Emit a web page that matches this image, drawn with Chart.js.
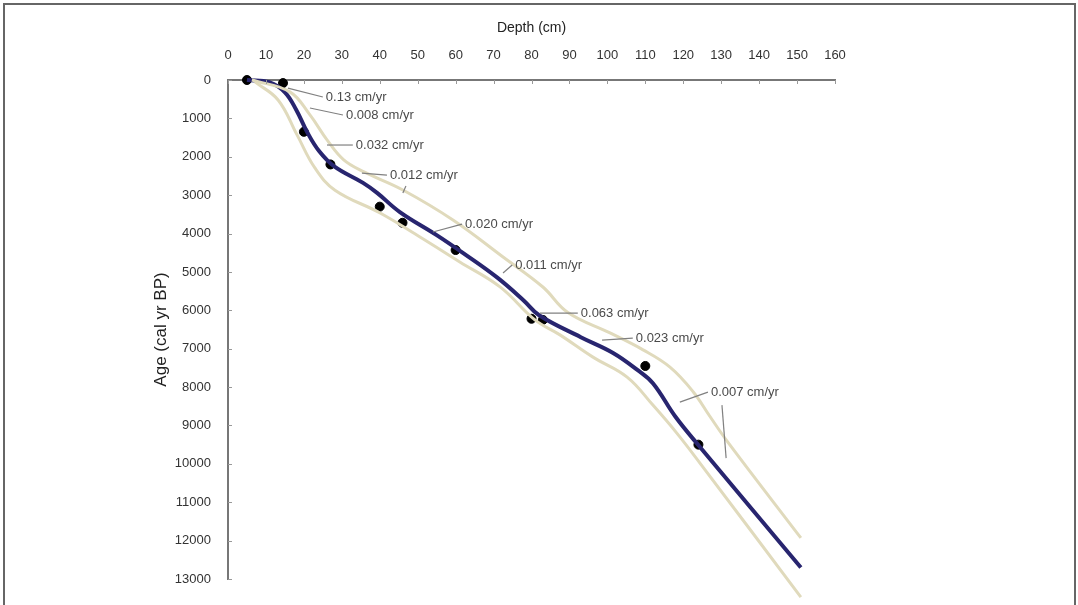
<!DOCTYPE html>
<html lang="en">

<head>
  <meta charset="UTF-8">
  <title>age depth model</title>
  <style>
    body { margin: 0; background: #fff; }
    #wrap { position: relative; width: 1078px; height: 605px; overflow: hidden; }
    #frame { position: absolute; left: 3px; top: 3px; width: 1069px; height: 620px; border: 2px solid #666; }
  </style>
</head>

<body>
  <div id="wrap">
    <canvas id="myChart" width="1078" height="605"></canvas>
    <div id="frame"></div>
  </div>
  <script src="https://cdn.jsdelivr.net/npm/chart.js"></script>
  <script>
    // depth (cm) / age (cal yr BP)
    const xTicks = [0, 10, 20, 30, 40, 50, 60, 70, 80, 90, 100, 110, 120, 130, 140, 150, 160];
    const yTicks = [0, 1000, 2000, 3000, 4000, 5000, 6000, 7000, 8000, 9000, 10000, 11000, 12000, 13000];

    const modelDepth = [5, 11, 15, 18, 21, 24, 28, 35.6, 39.3, 45.3, 55, 62, 71, 78, 82, 93, 101.5, 108, 112, 118, 124.4, 151];
    const modelAge = [0, 60, 320, 780, 1380, 1850, 2250, 2680, 2940, 3440, 4040, 4510, 5150, 5750, 6130, 6700, 7110, 7560, 7900, 8780, 9560, 12700];

    const upperDepth = [6.3, 16.3, 21.6, 26.1, 30.5, 36, 46.1, 59.3, 72.5, 83.0, 89.5, 100.7, 109.4, 116.5, 122.6, 127.0, 131.5, 151];
    const upperAge = [0, 310, 910, 1560, 2080, 2400, 2866, 3648, 4612, 5393, 6050, 6590, 7030, 7480, 8120, 8760, 9400, 11930];

    const lowerDepth = [7.1, 13.2, 18.2, 22.9, 28.2, 40.1, 50.6, 61.1, 71.7, 80.9, 87.5, 96.2, 105.2, 112.0, 118.3, 124.4, 151];
    const lowerAge = [50, 520, 1430, 2290, 2870, 3465, 4090, 4740, 5390, 6250, 6640, 7220, 7740, 8470, 9200, 9980, 13470];

    const dateDepth = [5, 14.5, 20, 27, 40, 46, 60, 80, 83, 110, 124];
    const dateAge = [0, 80, 1350, 2200, 3300, 3720, 4430, 6220, 6250, 7450, 9500];

    // sedimentation rate labels, leader line from -> to (depth, age)
    const rateLabels = ['0.13 cm/yr', '0.008 cm/yr', '0.032 cm/yr', '0.012 cm/yr', '0.020 cm/yr', '0.011 cm/yr', '0.063 cm/yr', '0.023 cm/yr', '0.007 cm/yr'];
    const leadFrom = [[15.8, 210], [21.6, 730], [26.1, 1694], [35.3, 2424], [54.0, 3961], [72.5, 5030], [82.2, 6072], [98.6, 6776], [119.1, 8391]];
    const leadTo = [[25.0, 443], [30.3, 912], [32.9, 1694], [41.9, 2476], [61.7, 3753], [74.9, 4821], [92.2, 6072], [106.7, 6723], [126.5, 8131]];
    const extraFrom = [[46.1, 2945], [130.2, 8470]];
    const extraTo = [[46.9, 2762], [131.3, 9850]];

    const pts = (xs, ys) => xs.map((x, i) => ({ x: x, y: ys[i] }));

    const innerTicks = {
      id: 'innerTicks',
      afterDraw(chart) {
        const c = chart.ctx, sx = chart.scales.x, sy = chart.scales.y;
        const a = chart.chartArea;
        c.save();
        c.strokeStyle = '#999';
        c.lineWidth = 1;
        xTicks.forEach(v => {
          const p = Math.round(sx.getPixelForValue(v)) + 0.5;
          c.beginPath(); c.moveTo(p, a.top); c.lineTo(p, a.top + 4); c.stroke();
        });
        yTicks.forEach(v => {
          const p = Math.round(sy.getPixelForValue(v)) + 0.5;
          c.beginPath(); c.moveTo(a.left, p); c.lineTo(a.left + 4, p); c.stroke();
        });
        c.restore();
      }
    };

    const rateNotes = {
      id: 'rateNotes',
      afterDatasetsDraw(chart) {
        const c = chart.ctx, sx = chart.scales.x, sy = chart.scales.y;
        c.save();
        c.strokeStyle = '#808080';
        c.lineWidth = 1.2;
        c.fillStyle = '#4a4a4a';
        c.font = '13px "Liberation Sans", Arial, sans-serif';
        c.textBaseline = 'middle';
        c.textAlign = 'left';
        rateLabels.forEach((t, i) => {
          const x0 = sx.getPixelForValue(leadFrom[i][0]), y0 = sy.getPixelForValue(leadFrom[i][1]);
          const x1 = sx.getPixelForValue(leadTo[i][0]), y1 = sy.getPixelForValue(leadTo[i][1]);
          c.beginPath(); c.moveTo(x0, y0); c.lineTo(x1, y1); c.stroke();
          c.fillText(t, x1 + 3, y1);
        });
        extraFrom.forEach((f, i) => {
          c.beginPath();
          c.moveTo(sx.getPixelForValue(f[0]), sy.getPixelForValue(f[1]));
          c.lineTo(sx.getPixelForValue(extraTo[i][0]), sy.getPixelForValue(extraTo[i][1]));
          c.stroke();
        });
        c.restore();
      }
    };

    const ctx = document.getElementById('myChart');
    const tickFont = { family: '"Liberation Sans", Arial, sans-serif', size: 13 };

    new Chart(ctx, {
      type: 'line',
      data: {
        datasets: [
          {
            label: 'upper',
            data: pts(upperDepth, upperAge),
            borderColor: '#e0dabc',
            borderWidth: 3,
            pointRadius: 0,
            tension: 0.4,
            clip: false
          },
          {
            label: 'lower',
            data: pts(lowerDepth, lowerAge),
            borderColor: '#e0dabc',
            borderWidth: 3,
            pointRadius: 0,
            tension: 0.4,
            clip: false
          },
          {
            label: 'model',
            data: pts(modelDepth, modelAge),
            borderColor: '#28256f',
            borderWidth: 4,
            pointRadius: 0,
            tension: 0.4,
            clip: false
          },
          {
            label: 'dates',
            data: pts(dateDepth, dateAge),
            showLine: false,
            pointRadius: 4.5,
            pointBackgroundColor: '#000',
            pointBorderColor: '#000',
            clip: false
          }
        ]
      },
      options: {
        responsive: false,
        devicePixelRatio: 1,
        animation: false,
        layout: { padding: { left: 0, top: 0, right: 243, bottom: 26 } },
        plugins: { legend: { display: false }, tooltip: { enabled: false } },
        scales: {
          x: {
            type: 'linear',
            position: 'top',
            min: 0,
            max: 160,
            afterFit: s => { s.height = 80; },
            afterBuildTicks: s => { s.ticks = xTicks.map(v => ({ value: v })); },
            grid: { display: false, drawTicks: false },
            border: { display: true, color: '#777', width: 2 },
            ticks: { padding: 17, color: '#333', font: tickFont, maxRotation: 0, autoSkip: false, callback: v => String(v) },
            title: { display: true, text: 'Depth (cm)', color: '#222', font: { family: '"Liberation Sans", Arial, sans-serif', size: 14 }, padding: { top: 20, bottom: 0 } }
          },
          y: {
            type: 'linear',
            reverse: true,
            min: 0,
            max: 13000,
            afterFit: s => { s.width = 228; },
            afterBuildTicks: s => { s.ticks = yTicks.map(v => ({ value: v })); },
            grid: { display: false, drawTicks: false },
            border: { display: true, color: '#777', width: 2 },
            ticks: { padding: 17, color: '#333', font: tickFont, autoSkip: false, callback: v => String(v) },
            title: { display: true, text: 'Age (cal yr BP)', color: '#222', font: { family: '"Liberation Sans", Arial, sans-serif', size: 17 }, padding: { top: 151, bottom: 0 } }
          }
        }
      },
      plugins: [innerTicks, rateNotes]
    });
  </script>
</body>

</html>
